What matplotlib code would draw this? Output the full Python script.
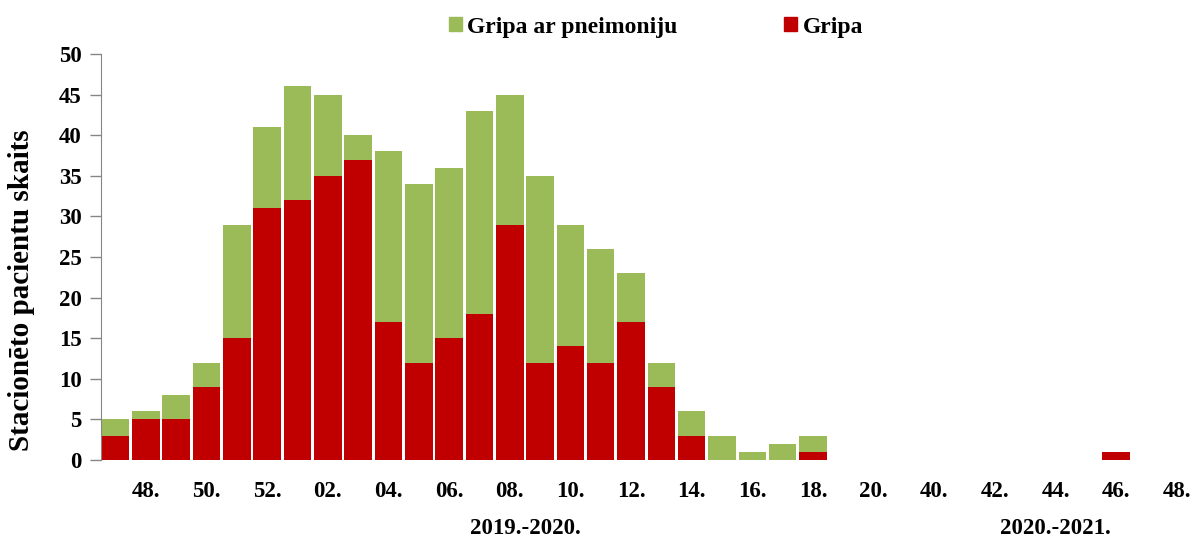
import matplotlib
matplotlib.use("Agg")
import matplotlib.pyplot as plt
from matplotlib.patches import Patch
import numpy as np

weeks = ["47.", "48.", "49.", "50.", "51.", "52.", "01.", "02.", "03.", "04.",
         "05.", "06.", "07.", "08.", "09.", "10.", "11.", "12.", "13.", "14.",
         "15.", "16.", "17.", "18.", "19.", "20.", "21.", "40.", "41.", "42.",
         "43.", "44.", "45.", "46.", "47.", "48."]
gripa = [3, 5, 5, 9, 15, 31, 32, 35, 37, 17,
         12, 15, 18, 29, 12, 14, 12, 17, 9, 3,
         0, 0, 0, 1, 0, 0, 0, 0, 0, 0,
         0, 0, 0, 1, 0, 0]
total = [5, 6, 8, 12, 29, 41, 46, 45, 40, 38,
         34, 36, 43, 45, 35, 29, 26, 23, 12, 6,
         3, 1, 2, 3, 0, 0, 0, 0, 0, 0,
         0, 0, 0, 1, 0, 0]
pneim = [t - g for t, g in zip(total, gripa)]
seasons = ["2019.-2020.", "2020.-2021."]

GREEN = "#9BBB59"
RED = "#C00000"
plt.rcParams["font.family"] = ["Liberation Serif", "DejaVu Serif"]
plt.rcParams["font.weight"] = "bold"

fig = plt.figure(figsize=(11.92, 5.4), dpi=100)
ax = fig.add_axes([101/1192, 1 - 460/540, 1 - 101/1192, (460 - 54)/540])

x = np.arange(len(weeks))
ax.bar(x, gripa, width=0.91, color=RED, linewidth=0)
ax.bar(x, pneim, width=0.91, bottom=gripa, color=GREEN, linewidth=0)

ax.set_xlim(-0.478, len(weeks) - 0.5)
ax.set_ylim(0, 50)
ax.set_yticks(np.arange(0, 51, 5))
ax.tick_params(axis="y", labelsize=16.5, length=8, color="#868686", width=1, pad=6)
ax.set_xticks(x[1::2])
ax.set_xticklabels(weeks[1::2], fontsize=16.5, fontweight="bold")
ax.tick_params(axis="x", length=0, pad=15)
for lab in ax.get_yticklabels():
    lab.set_fontweight("bold")

for s in ["top", "right", "bottom"]:
    ax.spines[s].set_visible(False)
ax.spines["left"].set_color("#868686")

fig.text(22/1192, 1 - 290/540, "Stacionēto pacientu skaits", rotation=90,
         ha="center", va="center", fontsize=21, fontweight="bold")
fig.text(525/1192, 1 - 529/540, seasons[0], ha="center", va="center",
         fontsize=16.5, fontweight="bold")
fig.text(1055/1192, 1 - 529/540, seasons[1], ha="center", va="center",
         fontsize=16.5, fontweight="bold")

handles = [Patch(color=GREEN, label="Gripa ar pneimoniju"),
           Patch(color=RED, label="Gripa")]
fig.legend(handles=handles, loc="center", bbox_to_anchor=(656/1192, 1 - 27/540),
           ncol=2, frameon=False, handlelength=0.55, handleheight=0.55,
           handletextpad=0.25, columnspacing=4.5, prop={"weight": "bold", "size": 17})

fig.savefig("out.png", dpi=100)
